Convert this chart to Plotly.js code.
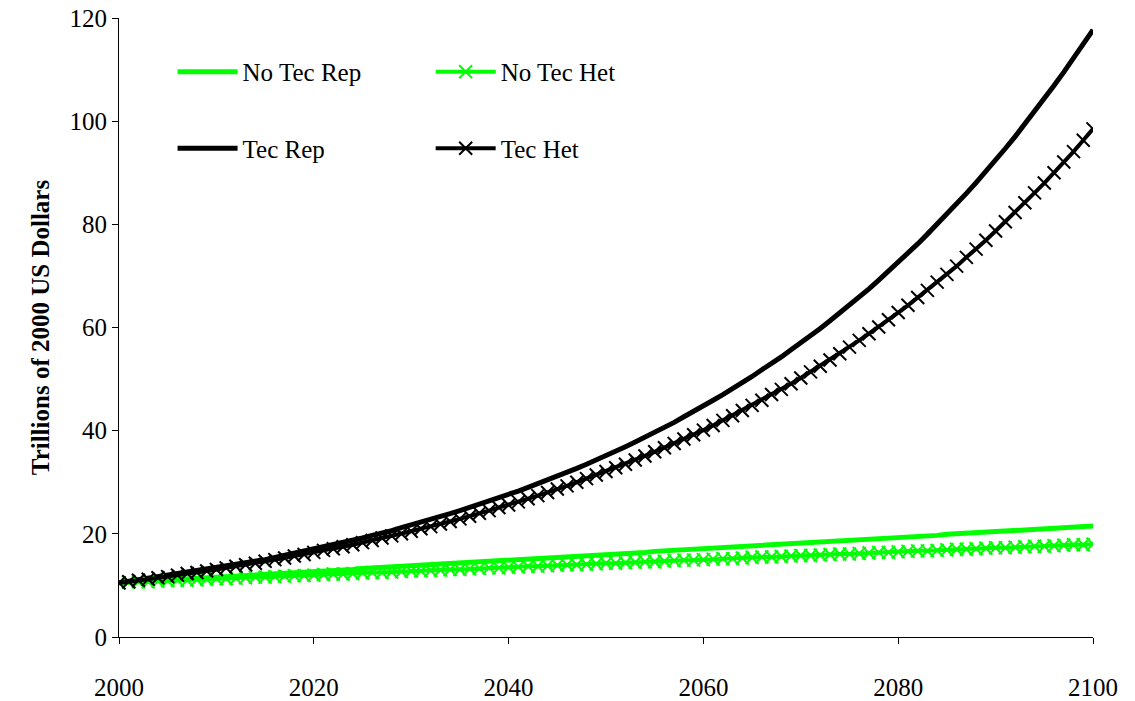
<!DOCTYPE html>
<html>
<head>
<meta charset="utf-8">
<script src="https://cdn.plot.ly/plotly-3.0.1.min.js"></script>
<style>body{margin:0;background:#fff}#chart{width:1135px;height:701px}</style>
</head>
<body>
<div id="chart"></div>
<script>
// years 2000..2100
let years = [];
for (let y = 2000; y <= 2100; y++) years.push(y);

let noTecRep = [10.5,10.6,10.7,10.8,10.9,11.1,11.2,11.3,11.4,11.5,11.6,11.7,11.8,11.9,12.0,12.2,12.3,12.4,12.5,12.6,12.7,
  12.8,12.9,13.0,13.1,13.3,13.4,13.5,13.6,13.7,13.8,13.9,14.0,14.1,14.2,14.4,14.5,14.6,14.7,14.8,14.9,
  15.0,15.1,15.2,15.3,15.5,15.6,15.7,15.8,15.9,16.0,16.1,16.2,16.3,16.4,16.6,16.7,16.8,16.9,17.0,17.1,
  17.2,17.3,17.4,17.5,17.7,17.8,17.9,18.0,18.1,18.2,18.3,18.4,18.5,18.6,18.8,18.9,19.0,19.1,19.2,19.3,
  19.4,19.5,19.6,19.7,19.9,20.0,20.1,20.2,20.3,20.4,20.5,20.6,20.7,20.8,21.0,21.1,21.2,21.3,21.4,21.5];

let noTecHet = [10.5,10.6,10.7,10.7,10.8,10.9,11.0,11.0,11.1,11.2,11.3,11.3,11.4,11.5,11.6,11.6,11.7,11.8,11.9,11.9,12.0,
  12.1,12.2,12.2,12.3,12.4,12.5,12.5,12.6,12.7,12.8,12.8,12.9,13.0,13.1,13.1,13.2,13.3,13.4,13.4,13.5,
  13.6,13.7,13.7,13.8,13.9,14.0,14.0,14.1,14.2,14.3,14.3,14.4,14.5,14.6,14.6,14.7,14.8,14.9,14.9,15.0,
  15.1,15.2,15.2,15.3,15.4,15.5,15.5,15.6,15.7,15.8,15.8,15.9,16.0,16.1,16.1,16.2,16.3,16.4,16.4,16.5,
  16.6,16.7,16.7,16.8,16.9,17.0,17.0,17.1,17.2,17.3,17.3,17.4,17.5,17.6,17.6,17.7,17.8,17.9,17.9,18.0];

let tecRep = [10.5,10.8,11.0,11.3,11.6,11.8,12.1,12.4,12.7,13.0,13.3,13.7,14.0,14.3,14.7,15.0,15.4,15.8,16.2,16.6,17.0,
  17.4,17.8,18.3,18.7,19.2,19.7,20.1,20.6,21.2,21.7,22.2,22.8,23.3,23.9,24.5,25.1,25.7,26.3,27.0,27.6,
  28.3,29.0,29.7,30.4,31.2,31.9,32.7,33.5,34.3,35.2,36.0,36.9,37.8,38.7,39.7,40.6,41.6,42.7,43.7,44.8,
  45.9,47.0,48.1,49.3,50.5,51.8,53.0,54.3,55.7,57.0,58.4,59.8,61.3,62.8,64.3,65.9,67.5,69.2,70.9,72.6,
  74.4,76.2,78.1,80.0,81.9,83.9,86.0,88.1,90.2,92.4,94.7,97.0,99.4,101.8,104.3,106.9,109.5,112.1,114.9,117.7];

let tecHet = [10.5,10.7,11.0,11.2,11.5,11.7,12.0,12.3,12.5,12.8,13.1,13.4,13.7,14.0,14.3,14.7,15.0,15.3,15.7,16.0,16.4,
  16.8,17.1,17.5,17.9,18.3,18.7,19.2,19.6,20.0,20.5,21.0,21.4,21.9,22.4,22.9,23.4,24.0,24.5,25.1,25.6,
  26.2,26.8,27.4,28.0,28.7,29.3,30.0,30.7,31.4,32.1,32.8,33.5,34.3,35.1,35.9,36.7,37.5,38.4,39.2,40.1,
  41.0,42.0,42.9,43.9,44.9,45.9,47.0,48.0,49.1,50.2,51.4,52.5,53.7,54.9,56.2,57.5,58.8,60.1,61.5,62.9,
  64.3,65.8,67.2,68.8,70.3,71.9,73.6,75.2,76.9,78.7,80.5,82.3,84.2,86.1,88.0,90.0,92.1,94.1,96.3,98.5];

let green = '#00ff00';

let data = [
  {x: years, y: noTecRep, mode: 'lines', name: 'No Tec Rep', line: {color: green, width: 5}, legend: 'legend', legendgroup: 'a'},
  {x: years, y: tecRep, mode: 'lines', name: 'Tec Rep', line: {color: '#000', width: 5}, legend: 'legend', legendgroup: 'b'},
  {x: years, y: noTecHet, mode: 'lines+markers', name: 'No Tec Het', line: {color: green, width: 4},
   marker: {symbol: 'x-thin-open', size: 13, color: green, line: {width: 2, color: green}}, legend: 'legend2', legendgroup: 'c'},
  {x: years, y: tecHet, mode: 'lines+markers', name: 'Tec Het', line: {color: '#000', width: 4},
   marker: {symbol: 'x-thin-open', size: 13, color: '#000', line: {width: 2, color: '#000'}}, legend: 'legend2', legendgroup: 'd'}
];

let legendStyle = {
  yanchor: 'top', y: 0.95, bgcolor: 'rgba(0,0,0,0)',
  font: {family: 'Liberation Serif', size: 25, color: '#000'},
  traceorder: 'grouped', tracegroupgap: 41, itemwidth: 60
};

let layout = {
  width: 1135, height: 701,
  margin: {l: 119, r: 42, t: 18, b: 64},
  paper_bgcolor: '#fff', plot_bgcolor: '#fff',
  font: {family: 'Liberation Serif', size: 25, color: '#000'},
  xaxis: {range: [2000, 2100], tickvals: [2000, 2020, 2040, 2060, 2080, 2100], showgrid: false, zeroline: false,
          showline: true, linecolor: '#000', linewidth: 1, ticks: 'outside', ticklen: 6, tickcolor: '#000',
          ticklabelstandoff: 22},
  yaxis: {range: [0, 120], dtick: 20, showgrid: false, zeroline: false,
          showline: true, linecolor: '#000', linewidth: 1, ticks: 'outside', ticklen: 6, tickcolor: '#000',
          title: {text: '<b>Trillions of 2000 US Dollars</b>', font: {size: 25}, standoff: 12}},
  legend: Object.assign({x: 0.055}, legendStyle),
  legend2: Object.assign({x: 0.32}, legendStyle),
  showlegend: true
};

Plotly.newPlot('chart', data, layout, {displayModeBar: false});
</script>
</body>
</html>
